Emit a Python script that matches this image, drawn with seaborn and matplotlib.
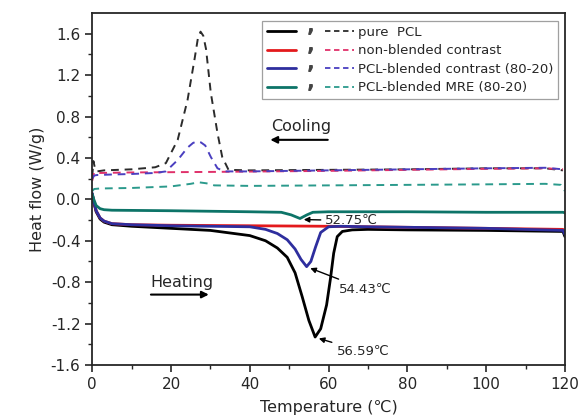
import numpy as np
import pandas as pd
import matplotlib
matplotlib.use("Agg")
import matplotlib.pyplot as plt
from matplotlib.lines import Line2D
from matplotlib.legend_handler import HandlerTuple
import seaborn as sns

# ---- heating (solid) curves: temperature (C), heat flow (W/g)
pcl_heat_t = [0, 0.4, 1, 2, 3, 5, 10, 20, 30, 40, 44, 47, 49.5, 51.5, 53.3, 55,
              56.59, 58, 59.5, 60.5, 61.3, 62.2, 63.5, 66, 70, 80, 100, 119.5, 120]
pcl_heat_q = [0.05, -0.03, -0.12, -0.19, -0.22, -0.245, -0.26, -0.28, -0.30, -0.35,
              -0.40, -0.47, -0.56, -0.71, -0.94, -1.17, -1.33, -1.25, -1.02, -0.76,
              -0.52, -0.36, -0.31, -0.295, -0.29, -0.295, -0.30, -0.31, -0.36]

nbc_heat_t = [0, 0.4, 1, 2, 3, 5, 10, 20, 40, 60, 80, 100, 119.5, 120]
nbc_heat_q = [0.05, -0.02, -0.11, -0.18, -0.21, -0.235, -0.245, -0.25, -0.255,
              -0.26, -0.27, -0.28, -0.29, -0.32]

pbc_heat_t = [0, 0.4, 1, 2, 3, 5, 10, 20, 30, 40, 44, 47, 49.5, 51.5, 53, 54.43,
              55.5, 56.7, 58, 60, 63, 70, 80, 100, 119.5, 120]
pbc_heat_q = [0.06, -0.02, -0.11, -0.18, -0.21, -0.235, -0.245, -0.255, -0.26,
              -0.265, -0.29, -0.33, -0.39, -0.48, -0.58, -0.65, -0.60, -0.46,
              -0.32, -0.265, -0.26, -0.265, -0.27, -0.28, -0.30, -0.34]

mre_heat_t = [0, 0.4, 1, 2, 3, 5, 20, 40, 48, 50.5, 52.75, 54.5, 56, 60, 80, 100,
              119.5, 120]
mre_heat_q = [0.05, 0.0, -0.06, -0.09, -0.10, -0.105, -0.11, -0.12, -0.125, -0.15,
              -0.185, -0.15, -0.125, -0.12, -0.12, -0.125, -0.125, -0.13]

# ---- cooling (dashed) curves
pcl_cool_t = [0, 0.3, 0.7, 1.2, 3, 10, 16, 18.7, 21.7, 24.2, 26.0, 26.8, 27.5, 28.2,
              28.9, 30.1, 31.8, 33, 34.6, 40, 60, 80, 100, 115, 119.5]
pcl_cool_q = [0.22, 0.37, 0.30, 0.27, 0.28, 0.29, 0.31, 0.35, 0.575, 0.96, 1.36,
              1.55, 1.62, 1.58, 1.45, 1.03, 0.64, 0.41, 0.285, 0.28, 0.285, 0.29,
              0.30, 0.30, 0.28]

nbc_cool_t = [0, 0.5, 2, 10, 30, 60, 80, 100, 115, 119.5]
nbc_cool_q = [0.18, 0.26, 0.255, 0.26, 0.265, 0.275, 0.285, 0.295, 0.30, 0.29]

pbc_cool_t = [0, 0.5, 1.2, 5, 10, 16, 18.7, 21.7, 24.2, 25.6, 26.6, 27.6, 28.7,
              30.1, 31.8, 33.6, 40, 60, 80, 100, 115, 119.5]
pbc_cool_q = [0.20, 0.23, 0.235, 0.24, 0.245, 0.255, 0.27, 0.38, 0.50, 0.545, 0.56,
              0.55, 0.52, 0.41, 0.30, 0.27, 0.27, 0.28, 0.29, 0.30, 0.305, 0.29]

mre_cool_t = [0, 0.5, 2, 10, 20, 25, 27, 29, 31, 40, 60, 80, 100, 115, 119, 120]
mre_cool_q = [0.08, 0.10, 0.105, 0.11, 0.125, 0.15, 0.165, 0.155, 0.135, 0.13,
              0.135, 0.14, 0.145, 0.15, 0.14, 0.08]

LABELS = ["pure  PCL", "non-blended contrast",
          "PCL-blended contrast (80-20)", "PCL-blended MRE (80-20)"]
SOLID_COLORS = ["#000000", "#e3191c", "#2e2e9e", "#0d7468"]
DASH_COLORS = ["#2b2b2b", "#e0306a", "#4a3fc0", "#2b9a8c"]

peaks_t = [52.75, 54.43, 56.59]
peaks_q = [-0.185, -0.65, -1.33]
peak_text = ["52.75℃", "54.43℃", "56.59℃"]

sns.set_style("ticks")
plt.rcParams["font.family"] = ["DejaVu Sans", "Noto Sans CJK SC"]
plt.rcParams["axes.linewidth"] = 1.3

fig = plt.figure(figsize=(5.8, 4.2), dpi=100)
ax = fig.add_axes([0.159, 0.131, 0.815, 0.838])

heat = [(pcl_heat_t, pcl_heat_q), (nbc_heat_t, nbc_heat_q),
        (pbc_heat_t, pbc_heat_q), (mre_heat_t, mre_heat_q)]
cool = [(pcl_cool_t, pcl_cool_q), (nbc_cool_t, nbc_cool_q),
        (pbc_cool_t, pbc_cool_q), (mre_cool_t, mre_cool_q)]

# dashed cooling first, solid heating on top
for (t, q), c in zip(cool, DASH_COLORS):
    d = pd.DataFrame({"T": t, "Q": q})
    sns.lineplot(data=d, x="T", y="Q", ax=ax, color=c, lw=1.4,
                 linestyle=(0, (4, 3)), sort=False, estimator=None)
for (t, q), c in zip(heat, SOLID_COLORS):
    d = pd.DataFrame({"T": t, "Q": q})
    sns.lineplot(data=d, x="T", y="Q", ax=ax, color=c, lw=2.0,
                 sort=False, estimator=None)

ax.set_xlim(0, 120)
ax.set_ylim(-1.6, 1.8)
ax.set_xticks(np.arange(0, 121, 20))
ax.set_xticks(np.arange(10, 120, 20), minor=True)
ax.set_yticks([-1.6, -1.2, -0.8, -0.4, 0.0, 0.4, 0.8, 1.2, 1.6])
ax.set_yticks(np.arange(-1.4, 1.8, 0.4), minor=True)
ax.yaxis.set_major_formatter(plt.FormatStrFormatter("%.1f"))
ax.tick_params(axis="both", which="major", labelsize=11, length=5, width=1.2)
ax.tick_params(axis="both", which="minor", length=3, width=1.0)
ax.set_xlabel("Temperature (℃)", fontsize=11.5, labelpad=6)
ax.set_ylabel("Heat flow (W/g)", fontsize=11.5, labelpad=4)
for s in ax.spines.values():
    s.set_visible(True)

# direction arrows
ax.text(45.5, 0.70, "Cooling", fontsize=11.5, va="center", ha="left")
ax.annotate("", xy=(44.5, 0.575), xytext=(60.5, 0.575),
            arrowprops=dict(arrowstyle="-|>", color="black", lw=1.5,
                            mutation_scale=10))
ax.text(14.8, -0.80, "Heating", fontsize=11.5, va="center", ha="left")
ax.annotate("", xy=(30.3, -0.92), xytext=(14.2, -0.92),
            arrowprops=dict(arrowstyle="-|>", color="black", lw=1.5,
                            mutation_scale=10))

# peak labels
txt_pos = [(59.2, -0.205), (62.6, -0.87), (62.0, -1.47)]
for pt, pq, lab, (tx, ty) in zip(peaks_t, peaks_q, peak_text, txt_pos):
    ax.annotate(lab, xy=(pt + 0.6, pq - 0.01), xytext=(tx, ty), fontsize=9.5,
                va="center", ha="left",
                arrowprops=dict(arrowstyle="-|>", color="black", lw=1.0,
                                mutation_scale=8, shrinkA=1, shrinkB=1))

# legend: solid , dashed  label
handles = []
for sc, dc in zip(SOLID_COLORS, DASH_COLORS):
    h1 = Line2D([], [], color=sc, lw=2.0)
    h2 = Line2D([], [], ls="none", marker="$,$", color="#444444", markersize=4)
    h3 = Line2D([], [], color=dc, lw=1.3, linestyle=(0, (3, 2)))
    handles.append((h1, h2, h3))
leg = ax.legend(handles, LABELS, handler_map={tuple: HandlerTuple(ndivide=None, pad=0.0)},
                loc="upper right", bbox_to_anchor=(0.985, 0.977), fontsize=9.5,
                handlelength=6.6, handletextpad=0.3, labelspacing=0.42,
                borderpad=0.35, frameon=True, fancybox=False, borderaxespad=0)
leg.get_frame().set_edgecolor("#888888")
leg.get_frame().set_linewidth(0.9)

fig.savefig("out.png", dpi=100)
